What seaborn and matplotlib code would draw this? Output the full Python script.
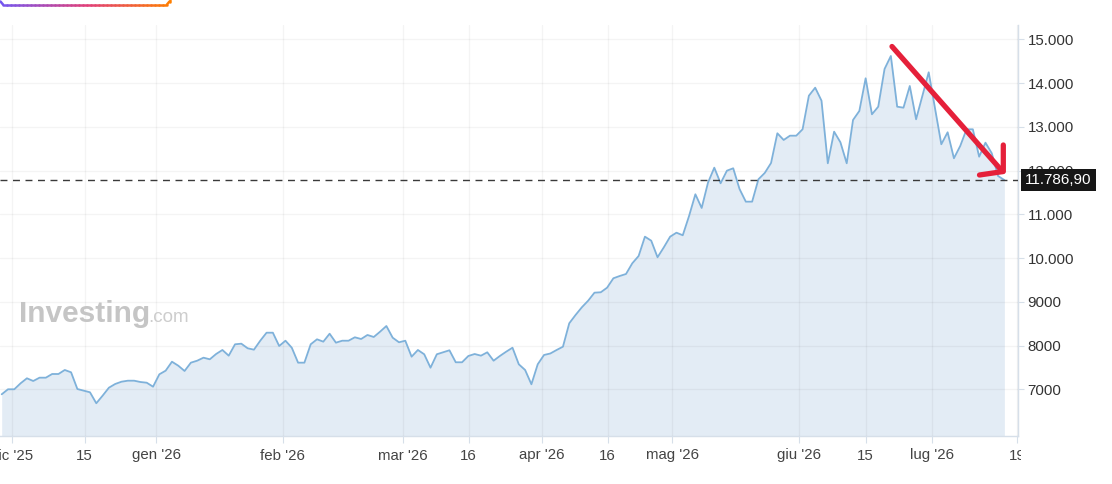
import numpy as np
import pandas as pd
import matplotlib
matplotlib.use("Agg")
import matplotlib.pyplot as plt
import matplotlib.transforms as mtransforms
from matplotlib.collections import LineCollection
from matplotlib.lines import Line2D
from matplotlib.patches import Rectangle
import seaborn as sns

# ---------------- data ----------------
values = [
    6890, 7005, 7005, 7142, 7256, 7194, 7270, 7270, 7354, 7354,
    7446, 7393, 7011, 6973, 6936, 6685, 6858, 7041, 7126, 7178,
    7201, 7201, 7171, 7155, 7064, 7347, 7430, 7635, 7544, 7423,
    7613, 7658, 7727, 7690, 7811, 7903, 7773, 8033, 8047, 7942,
    7910, 8115, 8298, 8298, 7994, 8115, 7955, 7613, 7613, 8033,
    8147, 8093, 8275, 8070, 8115, 8115, 8193, 8154, 8246, 8200,
    8321, 8451, 8184, 8079, 8115, 7750, 7903, 7805, 7498, 7805,
    7850, 7896, 7622, 7622, 7766, 7811, 7773, 7850, 7658, 7766,
    7864, 7955, 7576, 7446, 7119, 7576, 7789, 7823, 7903, 7978,
    8513, 8703, 8879, 9030, 9213, 9222, 9327, 9542, 9594, 9640,
    9885, 10051, 10493, 10401, 10022, 10250, 10493, 10584, 10525, 10966,
    11462, 11149, 11727, 12070, 11713, 12001, 12056, 11583, 11293, 11293,
    11805, 11949, 12177, 12856, 12703, 12801, 12801, 12947, 13715, 13898,
    13601, 12170, 12893, 12650, 12170, 13160, 13366, 14113, 13290, 13464,
    14326, 14623, 13464, 13441, 13937, 13176, 13709, 14250, 13427, 12605,
    12879, 12285, 12566, 12947, 12947, 12321, 12641, 12399, 11880, 11786.90,
]
last_price = 11786.90
last_label = "11.786,90"

x_tick_pos = [1.59, 13.15, 24.47, 44.53, 63.56, 74.04, 85.65, 96.07,
              106.37, 126.43, 136.98, 147.46, 161.0]
x_tick_labels = ["dic '25", "15", "gen '26", "feb '26", "mar '26", "16",
                 "apr '26", "16", "mag '26", "giu '26", "15", "lug '26", "19"]
y_ticks = [7000, 8000, 9000, 10000, 11000, 12000, 13000, 14000, 15000]

df = pd.DataFrame({"idx": np.arange(len(values)), "price": values})

# ---------------- style ----------------
sns.set_style("white")
plt.rcParams["font.family"] = ["Liberation Sans", "DejaVu Sans"]

W, H = 1112, 484
fig = plt.figure(figsize=(W / 100, H / 100), dpi=100)
ax_left, ax_right, ax_top, ax_bot = 0, 1018, 25, 436
ax = fig.add_axes([ax_left / W, (H - ax_bot) / H,
                   (ax_right - ax_left) / W, (ax_bot - ax_top) / H])

ymin, ymax = 5937, 15331
ax.set_xlim(-0.27, 161.16)
ax.set_ylim(ymin, ymax)

line_col = "#7eb1da"
fill_col = "#e3ecf5"

ax.fill_between(df["idx"], df["price"], ymin, color=fill_col, lw=0, zorder=1)
sns.lineplot(data=df, x="idx", y="price", ax=ax, color=line_col,
             linewidth=1.3, zorder=3)

ax.axhline(last_price, color="#3a3a3a", lw=1.0, ls=(0, (5, 4)), zorder=4)

# axes / ticks
ax.set_xlabel("")
ax.set_ylabel("")
ax.set_xticks(x_tick_pos)
ax.set_xticklabels(x_tick_labels)
ax.set_yticks(y_ticks)
ax.set_yticklabels([f"{v:,}".replace(",", ".") if v >= 10000 else str(v)
                    for v in y_ticks])
ax.yaxis.tick_right()
for s in ["top", "left"]:
    ax.spines[s].set_visible(False)
for s in ["right", "bottom"]:
    ax.spines[s].set_color("#d6dfe9")
    ax.spines[s].set_linewidth(1.0)
ax.tick_params(axis="y", which="both", right=True, left=False, length=4,
               color="#d6dfe9", labelsize=10.8, labelcolor="#333333", pad=3)
ax.tick_params(axis="x", bottom=True, length=5, color="#d6dfe9",
               labelsize=10.8, labelcolor="#444444", pad=4)
ax.set_axisbelow(False)
ax.grid(True, color="#000000", alpha=0.045, lw=1.0)
for gl in ax.get_xgridlines() + ax.get_ygridlines():
    gl.set_zorder(2)
    gl.set_alpha(0.045)
    gl.set_color("#000000")

# last price box
trans = mtransforms.blended_transform_factory(ax.transAxes, ax.transData)
ax.annotate(last_label, xy=(1.0, last_price), xycoords=trans,
            xytext=(7, 0), textcoords="offset pixels", ha="left", va="center",
            color="white", fontsize=11, annotation_clip=False, zorder=20,
            bbox=dict(boxstyle="square,pad=0.28", fc="#161616", ec="none"))

# cover right part of the clipped last x label
fig.add_artist(Rectangle((1021 / W, 0), (W - 1021) / W, 45 / H,
                         transform=fig.transFigure, fc="white", ec="none",
                         zorder=10))

# watermark
fig.text(19 / W, 1 - 322.5 / H, "Investing", fontsize=21.5, fontweight="bold",
         color="#c5c5c5", ha="left", va="baseline", zorder=2)
fig.text(148 / W, 1 - 322.5 / H, ".com", fontsize=13.5, color="#cdcdcd",
         ha="left", va="baseline", zorder=2)

# red arrow overlay
def fp(px, py):
    return px / W, 1 - py / H

arrow_col = "#e5203a"
for pts in ([(892, 46.5), (1002.5, 171.5)],
            [(1003.3, 145), (1003.3, 171.5), (979.5, 175)]):
    xs, ys = zip(*[fp(*p) for p in pts])
    fig.add_artist(Line2D(xs, ys, transform=fig.transFigure, color=arrow_col,
                          lw=3.8, solid_capstyle="round",
                          solid_joinstyle="round", zorder=30))

# top-left gradient button edge
gx = np.linspace(3, 167, 42)
segs = []
for i in range(len(gx) - 1):
    segs.append([fp(gx[i], 4.5), fp(gx[i + 1], 4.5)])
segs.append([fp(167, 4.5), fp(169.5, 1.5)])
segs.append([fp(169.5, 1.5), fp(169.5, 0)])
segs.insert(0, [fp(0.5, 1.5), fp(3, 4.5)])
cmap = matplotlib.colors.LinearSegmentedColormap.from_list(
    "btn", ["#7457f0", "#e0407a", "#ff7f00"])
cols = [cmap(t) for t in np.linspace(0, 1, len(segs))]
lc = LineCollection(segs, colors=cols, linewidths=1.8,
                    transform=fig.transFigure, zorder=30)
lc.set_capstyle("round")
fig.add_artist(lc)

fig.savefig("out.png", dpi=100)
